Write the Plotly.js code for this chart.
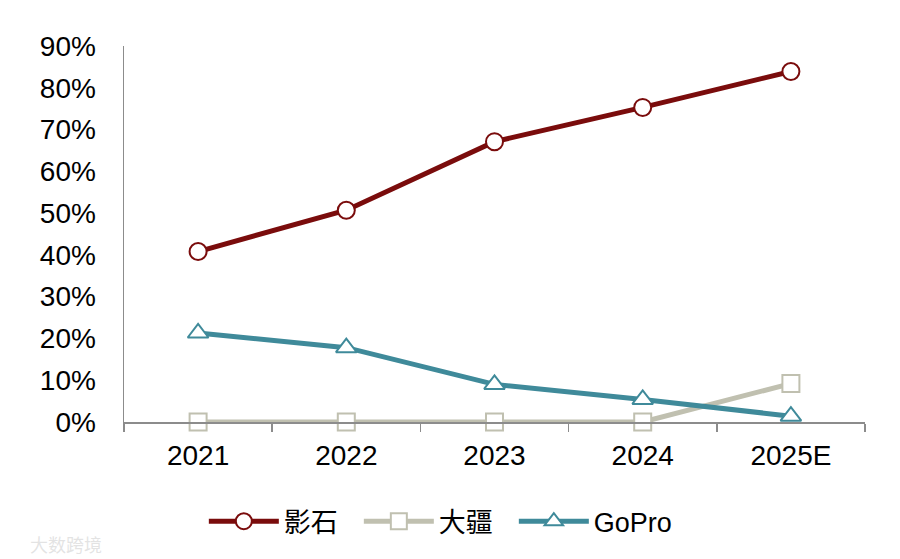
<!DOCTYPE html>
<html>
<head>
<meta charset="utf-8">
<script src="https://cdn.plot.ly/plotly-3.0.1.min.js"></script>
<style>html,body{margin:0;padding:0;background:#fff;}#chart{width:900px;height:559px;}</style>
</head>
<body>
<div id="chart"></div>
<script>
const categories = ["2021", "2022", "2023", "2024", "2025E"];
const insta360 = [0.408, 0.507, 0.671, 0.753, 0.839];
const dji = [0.0, 0.0, 0.0, 0.0, 0.092];
const gopro = [0.213, 0.178, 0.090, 0.054, 0.014];
const seriesNames = ["影石", "大疆", "GoPro"];
const yTicks = [0, 0.1, 0.2, 0.3, 0.4, 0.5, 0.6, 0.7, 0.8, 0.9];
const yTickText = ["0%", "10%", "20%", "30%", "40%", "50%", "60%", "70%", "80%", "90%"];

const font = "Arial, 'Liberation Sans', 'Noto Sans CJK SC', sans-serif";
function mk(name, y, color, symbol, size) {
  return {
    x: categories, y: y, name: name, type: "scatter", mode: "lines+markers",
    line: {color: color, width: 5},
    marker: {symbol: symbol, size: size, color: "#ffffff", line: {color: color, width: 2}},
    cliponaxis: false
  };
}
const traces = [
  mk(seriesNames[1], dji, "#C0C0B0", "square", 17),
  mk(seriesNames[2], gopro, "#3F8A9A", "triangle-up", 18),
  mk(seriesNames[0], insta360, "#7A0C0C", "circle", 17)
];
traces[2].legendrank = 1; traces[0].legendrank = 2; traces[1].legendrank = 3;
traces[1].legendwidth = 90;

const layout = {
  width: 900, height: 559,
  margin: {l: 124, r: 35, t: 46, b: 137},
  paper_bgcolor: "#ffffff", plot_bgcolor: "#ffffff",
  font: {family: font, size: 28, color: "#000000"},
  showlegend: true,
  legend: {orientation: "h", x: 0.435, xanchor: "center", y: -0.265, yanchor: "middle",
           font: {family: font, size: 27, color: "#000000"}, itemwidth: 70,
           entrywidth: 70, entrywidthmode: "pixels", traceorder: "normal"},
  xaxis: {
    type: "category", range: [-0.5, 4.5], showgrid: false, zeroline: false,
    showline: true, linecolor: "#8c8c8c", linewidth: 1.5,
    ticks: "outside", ticklen: 8, tickcolor: "#8c8c8c", tickwidth: 1.5,
    tickson: "boundaries", ticklabelstandoff: 8,
    tickfont: {family: font, size: 28, color: "#000"}
  },
  yaxis: {
    range: [0, 0.9], showgrid: false, zeroline: false,
    showline: true, linecolor: "#8c8c8c", linewidth: 1.5,
    ticks: "", tickvals: yTicks, ticktext: yTickText, ticklabelstandoff: 21,
    tickfont: {family: font, size: 28, color: "#000"}
  },
  annotations: [{
    text: "大数跨境", xref: "paper", yref: "paper", x: -0.13, y: -0.285,
    xanchor: "left", yanchor: "top", showarrow: false,
    font: {family: "'Noto Sans CJK SC', sans-serif", size: 18, color: "rgba(200,200,200,0.5)"}
  }]
};
Plotly.newPlot("chart", traces, layout, {displayModeBar: false, staticPlot: true});
</script>
</body>
</html>
